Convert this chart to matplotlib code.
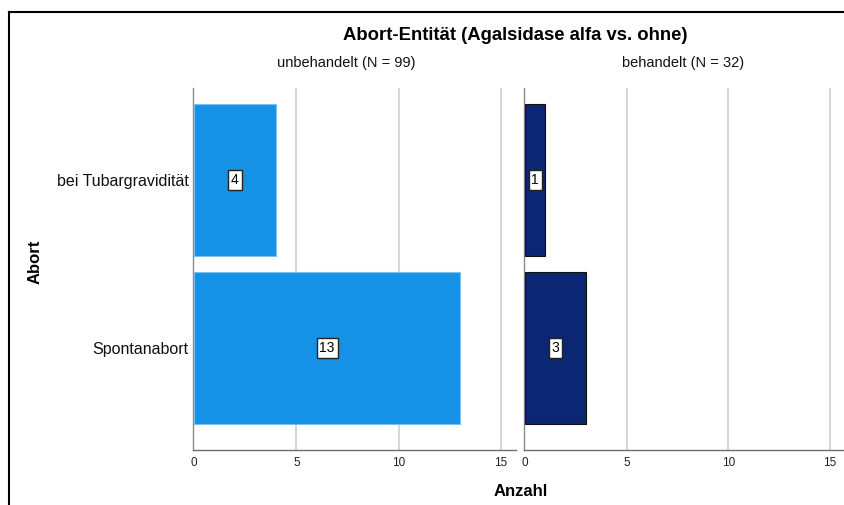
import matplotlib.pyplot as plt
from matplotlib.lines import Line2D

plt.rcParams['font.family'] = ['Liberation Sans', 'DejaVu Sans']

categories = ["Spontanabort", "bei Tubargravidität"]
unbehandelt = [13, 4]
behandelt = [3, 1]
panel_titles = ["unbehandelt (N = 99)", "behandelt (N = 32)"]
xticks = [0, 5, 10, 15]

fig = plt.figure(figsize=(8.45, 5.05), dpi=100)
ax_l = fig.add_axes([193 / 845, 55 / 505, 323 / 845, 362 / 505])
ax_r = fig.add_axes([524 / 845, 55 / 505, 321 / 845, 362 / 505])

ypos = range(len(categories))
panels = [
    (ax_l, unbehandelt, "#1591e6", "#7cc0f0", panel_titles[0], 346),
    (ax_r, behandelt, "#0b2672", "#111111", panel_titles[1], 683),
]
for ax, vals, fc, ec, title, title_x in panels:
    ax.barh(ypos, vals, height=0.9, color=fc, edgecolor=ec, linewidth=0.8, zorder=3)
    for y, v in zip(ypos, vals):
        ax.text(v / 2, y, str(v), ha='center', va='center', fontsize=10, zorder=4,
                bbox=dict(boxstyle='square,pad=0.2', fc='white', ec='#222222', lw=1.0))
    ax.set_xlim(-0.05, 15.73)
    ax.set_ylim(-0.607, 1.548)
    ax.set_xticks(xticks)
    ax.set_xticklabels([str(t) for t in xticks], fontsize=8.5, color='#222222')
    ax.tick_params(axis='x', length=0, pad=5)
    ax.tick_params(axis='y', length=0, pad=3)
    for t in xticks[1:]:
        ax.axvline(t, color='#cfcfcf', lw=1.2, zorder=1)
    for s in ['top', 'right']:
        ax.spines[s].set_visible(False)
    ax.spines['left'].set_color('#8a8a8a')
    ax.spines['bottom'].set_color('#6f6f6f')
    ax.spines['left'].set_linewidth(1.0)
    ax.spines['bottom'].set_linewidth(1.0)
    # panel header
    fig.text(title_x / 845, 1 - 63 / 505, title, ha='center', va='center',
             fontsize=10.5, color='#111111')

ax_l.set_yticks(list(ypos))
ax_l.set_yticklabels(categories, fontsize=11.5, color='#111111')
ax_r.set_yticks([])

fig.text(515 / 845, 1 - 35 / 505, "Abort-Entität (Agalsidase alfa vs. ohne)",
         ha='center', va='center', fontsize=13.3, fontweight='bold')
fig.text(521 / 845, 1 - 491 / 505, "Anzahl", ha='center', va='center',
         fontsize=12, fontweight='bold')
fig.text(35 / 845, 1 - 262 / 505, "Abort", ha='center', va='center',
         fontsize=12, fontweight='bold', rotation=90)

# outer frame, only left and top edges
fig.add_artist(Line2D([9 / 845, 9 / 845], [0, 1 - 12 / 505], color='black', lw=1.5,
                      transform=fig.transFigure))
fig.add_artist(Line2D([9 / 845, 1], [1 - 12 / 505, 1 - 12 / 505], color='black', lw=1.5,
                      transform=fig.transFigure))

fig.savefig("out.png", dpi=100)
